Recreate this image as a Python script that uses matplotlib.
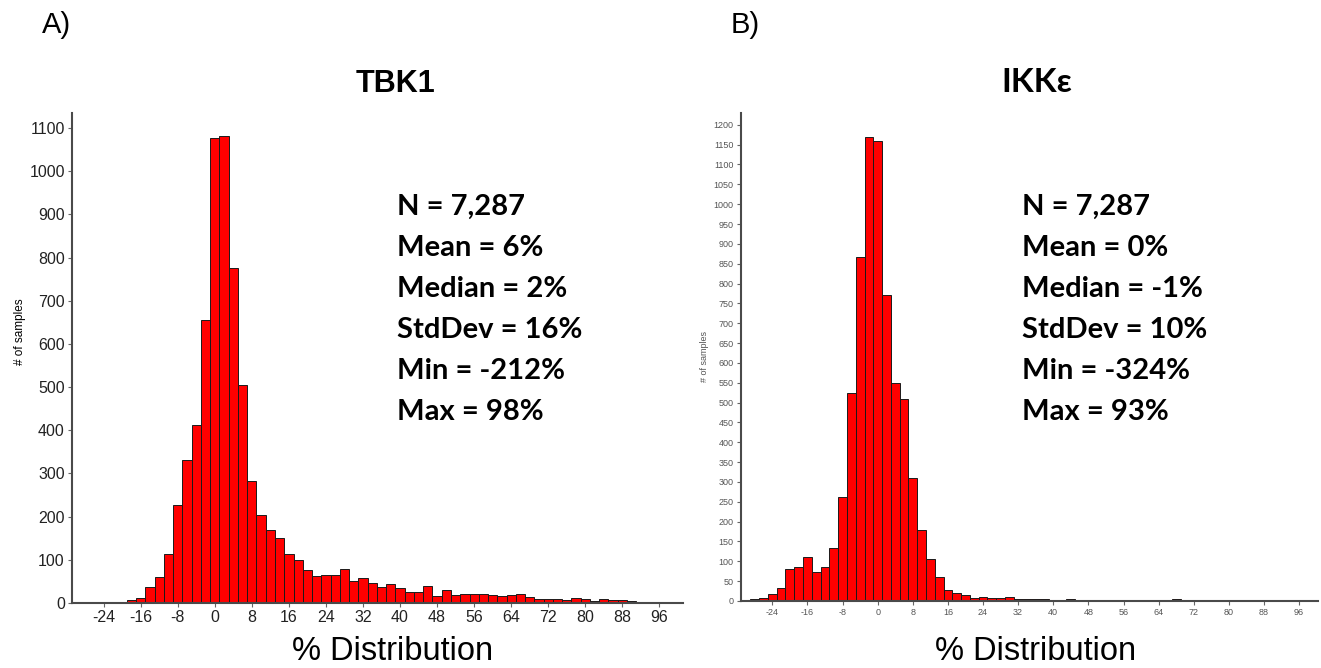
import numpy as np
import matplotlib
matplotlib.use("Agg")
import matplotlib.pyplot as plt

# ---------------------------------------------------------------------------
# Dados: centro de cada classe (largura 2%) e contagens
# ---------------------------------------------------------------------------
tbk1_centros = list(range(-28, 100, 2))
tbk1_contagens = [3, 1, 1, 2, 3, 8, 11, 36, 60, 114,
                  226, 332, 412, 656, 1077, 1082, 775, 506, 283, 204,
                  170, 150, 114, 100, 77, 63, 66, 66, 78, 50,
                  59, 46, 36, 45, 35, 25, 25, 39, 16, 29,
                  18, 22, 22, 22, 19, 16, 19, 21, 15, 9,
                  10, 10, 8, 12, 10, 5, 9, 6, 6, 5,
                  2, 1, 3, 2]

ikke_centros = list(range(-30, 100, 2))
ikke_contagens = [2, 4, 8, 17, 32, 81, 85, 112, 72, 86,
                  133, 263, 525, 868, 1170, 1160, 771, 550, 510, 310,
                  178, 105, 61, 28, 19, 16, 8, 9, 7, 7,
                  9, 6, 6, 6, 6, 1, 1, 5, 3, 1,
                  3, 3, 1, 3, 1, 3, 0, 1, 1, 6,
                  0, 0, 0, 0, 0, 0, 0, 1, 1, 1,
                  0, 0, 1, 0, 0]

xticks = list(range(-24, 100, 8))

tbk1_stats = ["N = 7,287", "Mean = 6%", "Median = 2%",
              "StdDev = 16%", "Min = -212%", "Max = 98%"]
ikke_stats = ["N = 7,287", "Mean = 0%", "Median = -1%",
              "StdDev = 10%", "Min = -324%", "Max = 93%"]

W, H = 1321, 668
ARIAL = ["Liberation Sans", "DejaVu Sans"]
CALIBRI = ["Lato", "Open Sans", "DejaVu Sans"]

plt.rcParams["axes.unicode_minus"] = False


def fx(px):
    return px / W


def fy(py):
    return 1 - py / H


def painel(rect, centros, contagens, xlim, ylim, yticks, tick_fs, tick_cor):
    ax = fig.add_axes(rect)
    ax.bar(centros, contagens, width=2, color="#ff0000",
           edgecolor="#1a1a1a", linewidth=0.7)
    ax.set_xlim(*xlim)
    ax.set_ylim(*ylim)
    ax.set_xticks(xticks)
    ax.set_yticks(yticks)
    for s in ["top", "right"]:
        ax.spines[s].set_visible(False)
    for s in ["left", "bottom"]:
        ax.spines[s].set_color("#4a4a4a")
        ax.spines[s].set_linewidth(1.5)
    ax.tick_params(axis="both", direction="out", length=3, width=0.8,
                   color="#666666", labelsize=tick_fs, labelcolor=tick_cor, pad=2)
    for lab in ax.get_xticklabels() + ax.get_yticklabels():
        lab.set_family(ARIAL)
    return ax


fig = plt.figure(figsize=(W / 100, H / 100), dpi=100)

# --- painel A: TBK1 ---
painel([fx(71.7), fy(603), fx(683 - 71.7), (603 - 113) / H],
       tbk1_centros, tbk1_contagens, (-30.9, 101.1), (0, 1135),
       list(range(0, 1101, 100)), 11.5, "#222222")

# --- painel B: IKKe ---
painel([fx(740.7), fy(601), fx(1318 - 740.7), (601 - 113.3) / H],
       ikke_centros, ikke_contagens, (-31.2, 100.3), (0, 1229),
       list(range(0, 1201, 50)), 6.5, "#555555")

# letras dos painéis
fig.text(fx(42), fy(33), "A)", fontsize=21, family=ARIAL, va="baseline")
fig.text(fx(731), fy(33), "B)", fontsize=21, family=ARIAL, va="baseline")

# títulos
fig.text(fx(396), fy(92), "TBK1", fontsize=22, weight="bold", family=ARIAL,
         ha="center", va="baseline")
fig.text(fx(1037), fy(92), "IKKε", fontsize=24, weight="bold", family=CALIBRI,
         ha="center", va="baseline")

# eixos x (um pouco acima da borda para não cortar)
fig.text(fx(393), fy(660), "% Distribution", fontsize=23.5, family=ARIAL,
         ha="center", va="baseline")
fig.text(fx(1036), fy(660), "% Distribution", fontsize=23.5, family=ARIAL,
         ha="center", va="baseline")

# eixos y
fig.text(fx(20), fy(332), "# of samples", fontsize=8.5, family=ARIAL,
         rotation=90, ha="center", va="center")
fig.text(fx(704), fy(357), "# of samples", fontsize=6.5, family=ARIAL,
         color="#555555", rotation=90, ha="center", va="center")

# estatísticas
for i, (a, b) in enumerate(zip(tbk1_stats, ikke_stats)):
    y = fy(215 + 41 * i)
    fig.text(fx(397), y, a, fontsize=21, weight="bold", family=CALIBRI,
             va="baseline")
    fig.text(fx(1022), y, b, fontsize=21, weight="bold", family=CALIBRI,
             va="baseline")

fig.savefig("out.png", dpi=100, facecolor="white")
